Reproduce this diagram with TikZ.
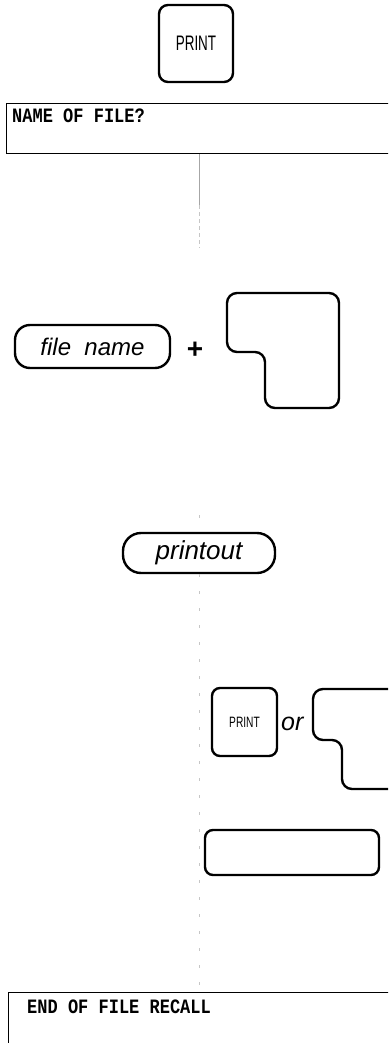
\documentclass[tikz,border=0pt]{standalone}
\usepackage{fontspec}
\setmainfont{Liberation Sans}
\setmonofont{Liberation Mono}
\begin{document}
\begin{tikzpicture}[x=1pt,y=-1pt,
  keybox/.style={draw,line width=2.4pt,rounded corners=9pt,inner sep=0pt},
  pill/.style={draw,line width=2.4pt,rounded corners=15pt,inner sep=0pt},
  disp/.style={draw,line width=1.1pt,inner sep=0pt,anchor=north west},
  disptext/.style={anchor=base west,inner sep=0pt,font=\ttfamily\bfseries\fontsize{17}{17}\selectfont},
  lkey/.style={line width=2.4pt,rounded corners=10pt},
  conn/.style={gray!70,line width=0.8pt},
  faint/.style={gray!45,line width=0.8pt,dash pattern=on 3pt off 14pt}]
\useasboundingbox (0,0) rectangle (388,1043);
\clip (0,0) rectangle (388,1043);
% PRINT key
\node[keybox,minimum width=74pt,minimum height=77pt] (print1) at (196,43.5)
  {\scalebox{0.64}[1]{\fontsize{21}{21}\selectfont PRINT}};
% display 1
\node[disp,minimum width=392pt,minimum height=50pt] (disp1) at (6,103) {};
\node[disptext] (t1) at (12,122.5) {\scalebox{1}[1.2]{NAME OF FILE?}};
% connector from display
\coordinate (v1) at (199,205);
\coordinate (v2) at (199,248);
\draw[conn] (disp1.south -| v1) -- (v1);
\draw[gray!45,line width=0.8pt,dash pattern=on 4pt off 3pt] (v1) -- (v2);
% file name + key
\node[pill,minimum width=155pt,minimum height=43pt,font=\itshape\fontsize{24}{24}\selectfont] (fn) at (92.5,346.5) {file\ \ name};
\node[font=\bfseries\fontsize{28}{28}\selectfont,inner sep=0pt] (plus) at (195,350) {+};
\coordinate (L1) at (227,293);
\draw[lkey] (L1) -- (339,293) -- (339,408) -- (265,408) -- (265,352) -- (227,352) -- cycle;
% printout
\coordinate (p0) at (199,515);
\node[pill,rounded corners=18pt,minimum width=152pt,minimum height=40pt,font=\itshape\fontsize{26}{26}\selectfont] (po) at (199,553) {printout};
\draw[faint] (p0) -- (po.north);
% PRINT or key
\node[keybox,rounded corners=8pt,minimum width=65pt,minimum height=68pt] (print2) at (244.5,722)
  {\scalebox{0.68}[1]{\fontsize{15}{15}\selectfont PRINT}};
\node[font=\itshape\fontsize{25}{25}\selectfont,inner sep=0pt,anchor=base west] (or) at (281,730) {or};
\coordinate (L2) at (313,689);
\draw[lkey] (L2) -- (400,689) -- (400,789) -- (342,789) -- (342,740) -- (313,740) -- cycle;
% wide key
\node[keybox,rounded corners=8pt,minimum width=174pt,minimum height=45pt] (wide) at (292,852.5) {};
% display 2
\node[disp,minimum width=392pt,minimum height=80pt] (disp2) at (8,992) {};
\node[disptext] (t2) at (27,1013.5) {\scalebox{1}[1.2]{END OF FILE RECALL}};
\draw[faint] (po.south -| p0) -- (disp2.north -| p0);
\end{tikzpicture}
\end{document}
